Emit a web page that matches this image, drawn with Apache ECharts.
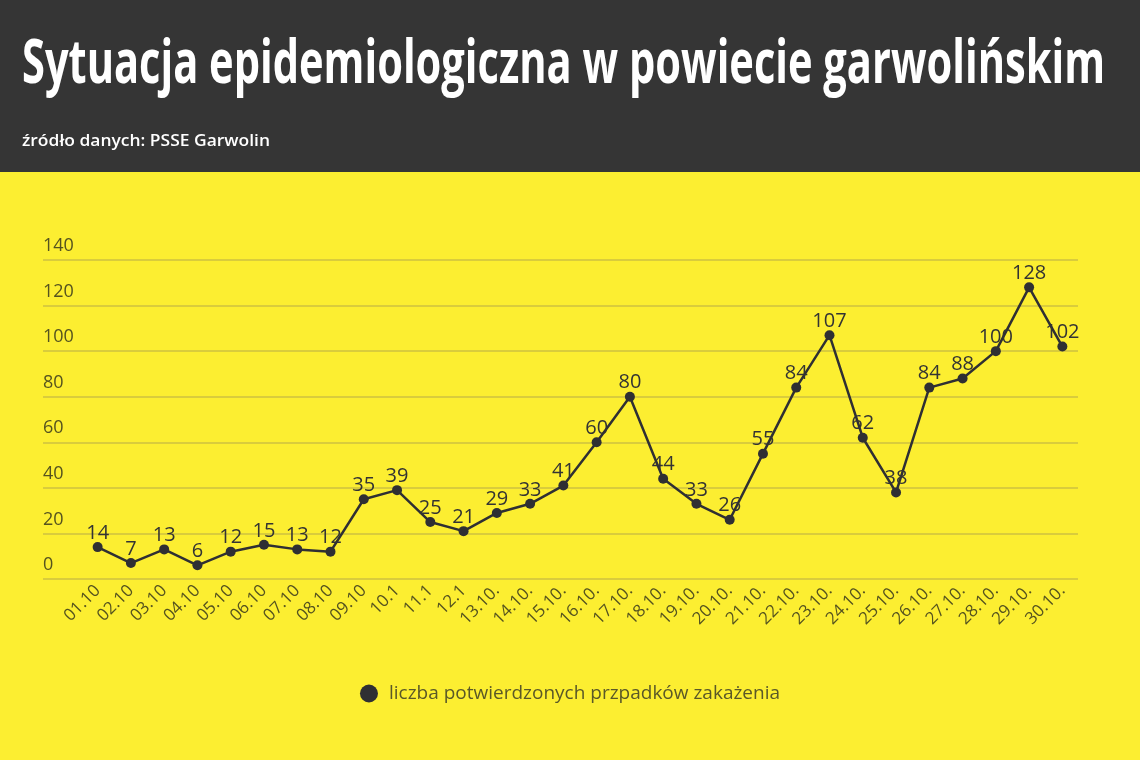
<!DOCTYPE html>
<html>
<head>
<meta charset="utf-8">
<script src="https://cdn.jsdelivr.net/npm/echarts@6/dist/echarts.min.js"></script>
<style>
html,body{margin:0;padding:0;background:#fcee31;}
#main{width:1140px;height:760px;}
</style>
</head>
<body>
<div id="main"></div>
<script>
const titleText = 'Sytuacja epidemiologiczna w powiecie garwolińskim';
const subtitleText = 'źródło danych: PSSE Garwolin';
const seriesName = 'liczba potwierdzonych przpadków zakażenia';
const categories = ['01.10','02.10','03.10','04.10','05.10','06.10','07.10','08.10','09.10','10.1','11.1','12.1','13.10.','14.10.','15.10.','16.10.','17.10.','18.10.','19.10.','20.10.','21.10.','22.10.','23.10.','24.10.','25.10.','26.10.','27.10.','28.10.','29.10.','30.10.'];
const values = [14,7,13,6,12,15,13,12,35,39,25,21,29,33,41,60,80,44,33,26,55,84,107,62,38,84,88,100,128,102];
const yMin = 0, yMax = 140, yStep = 20;

const font = '"Open Sans", "Noto Sans", sans-serif';
const titleFont = 'bold 60px "Open Sans"';
const subFont = '600 17px "Open Sans"';
const cv = document.createElement('canvas').getContext('2d');
cv.font = titleFont;
const titleW = cv.measureText(titleText).width;
cv.font = subFont;
const subW = cv.measureText(subtitleText).width;
const titleScale = 1083 / titleW;
const subScale = 248 / subW;

const chart = echarts.init(document.getElementById('main'), null, {renderer:'canvas'});
chart.setOption({
  backgroundColor: '#fcee31',
  animation: false,
  graphic: [
    {type:'rect', left:0, top:0, shape:{x:0,y:0,width:1140,height:172}, style:{fill:'#353535'}, z:-1},
    {type:'text', x:22, y:66, scaleX:titleScale, originX:0,
     style:{text:titleText, fill:'#ffffff', font:titleFont, textVerticalAlign:'middle', textAlign:'left'}},
    {type:'text', x:22, y:141, scaleX:subScale, originX:0,
     style:{text:subtitleText, fill:'#ffffff', font:subFont, textVerticalAlign:'middle', textAlign:'left'}}
  ],
  legend: {
    bottom: 52, left: 'center',
    icon: 'circle', itemWidth: 18, itemHeight: 18, itemGap: 10,
    textStyle: {color:'#5a5828', fontSize:19, fontFamily: font, padding:[0,0,0,6]},
    data: [seriesName]
  },
  grid: [
    {left:43, right:62, top:260, bottom:181},
    {left:81, right:61, top:260, bottom:181}
  ],
  xAxis: [
    {type:'category', gridIndex:0, data:categories, show:false},
    {type:'category', gridIndex:1, data:categories, boundaryGap:true,
     axisLine:{show:false}, axisTick:{show:false},
     axisLabel:{rotate:45, interval:0, color:'#55531f', fontSize:17, fontFamily:font, margin:9}}
  ],
  yAxis: [
    {type:'value', gridIndex:0, min:yMin, max:yMax, interval:yStep,
     axisLine:{show:false}, axisTick:{show:false},
     axisLabel:{inside:true, verticalAlign:'bottom', color:'#55531f', fontSize:18, fontFamily:font, margin:0, padding:[0,0,5,0]},
     splitLine:{lineStyle:{color:'#d9cc3c', width:2}}},
    {type:'value', gridIndex:1, min:yMin, max:yMax, interval:yStep, show:false, splitLine:{show:false}}
  ],
  series: [{
    name: seriesName,
    type: 'line',
    xAxisIndex: 1, yAxisIndex: 1,
    data: values,
    symbol: 'circle', symbolSize: 10,
    itemStyle: {color:'#2f2f33'},
    lineStyle: {color:'#2f2f33', width:2.5},
    label: {show:true, position:'top', distance:-1, color:'#333333', fontSize:20, fontFamily:font}
  }]
});
</script>
</body>
</html>
